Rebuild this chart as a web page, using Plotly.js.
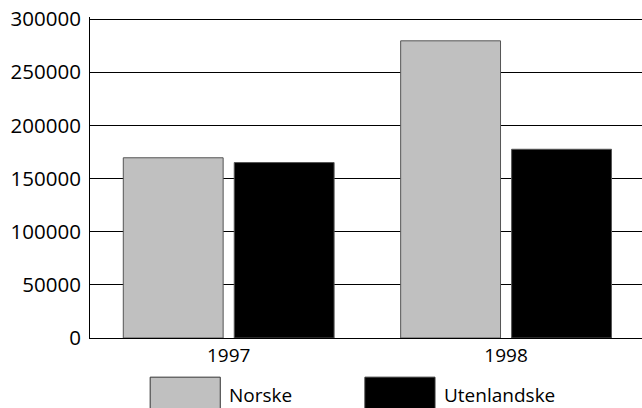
<!DOCTYPE html>
<html>
<head>
<meta charset="utf-8">
<script src="https://cdn.plot.ly/plotly-3.0.1.min.js"></script>
<style>
  html, body { margin: 0; padding: 0; background: #fff; }
  #chart { width: 642px; height: 408px; }
</style>
</head>
<body>
<div id="chart"></div>
<script>
// Years on the x axis
const years = ['1997', '1998'];

// Series values
const norske = [169500, 279500];
const utenlandske = [165000, 177500];

const seriesNames = ['Norske', 'Utenlandske'];
const seriesColors = ['#c0c0c0', '#000000'];

const yTicks = [0, 50000, 100000, 150000, 200000, 250000, 300000];

const font = { family: 'Open Sans, sans-serif', size: 19, color: '#000' };

const traces = [norske, utenlandske].map((vals, i) => ({
    type: 'bar',
    x: years,
    y: vals,
    name: seriesNames[i],
    marker: {
        color: seriesColors[i],
        line: { color: '#555', width: 1 }
    },
    hoverinfo: 'x+y+name'
}));

// Hand drawn legend below the plot: big swatches like the original
const legendX = [0.109, 0.498];
const swatchW = 0.127;
const shapes = [];
const annotations = [];
seriesNames.forEach((name, i) => {
    shapes.push({
        type: 'rect', xref: 'paper', yref: 'paper',
        x0: legendX[i], x1: legendX[i] + swatchW,
        y0: -0.122, y1: -0.25,
        fillcolor: seriesColors[i],
        line: { color: '#333', width: 1 }
    });
    annotations.push({
        xref: 'paper', yref: 'paper',
        x: legendX[i] + swatchW + 0.012, y: -0.178,
        xanchor: 'left', yanchor: 'middle',
        text: name, showarrow: false,
        font: font
    });
});

const layout = {
    width: 642,
    height: 408,
    margin: { l: 90, r: 0, t: 17, b: 70 },
    paper_bgcolor: '#fff',
    plot_bgcolor: '#fff',
    font: font,
    showlegend: false,
    barmode: 'group',
    bargap: 0.2,
    bargroupgap: 0.1,
    xaxis: {
        type: 'category',
        range: [-0.5, 1.49],
        showline: true,
        linecolor: '#000',
        linewidth: 1,
        ticks: '',
        showgrid: false,
        tickfont: font
    },
    yaxis: {
        range: [0, 301900],
        tickvals: yTicks,
        ticktext: yTicks.map(String),
        showline: true,
        linecolor: '#000',
        linewidth: 1,
        ticks: '',
        showgrid: true,
        gridcolor: '#000',
        gridwidth: 1,
        zeroline: false,
        tickfont: { family: font.family, size: 20.5, color: '#000' },
        ticklabelstandoff: 4
    },
    shapes: shapes,
    annotations: annotations
};

Plotly.newPlot('chart', traces, layout, { displayModeBar: false, staticPlot: true });
</script>
</body>
</html>
